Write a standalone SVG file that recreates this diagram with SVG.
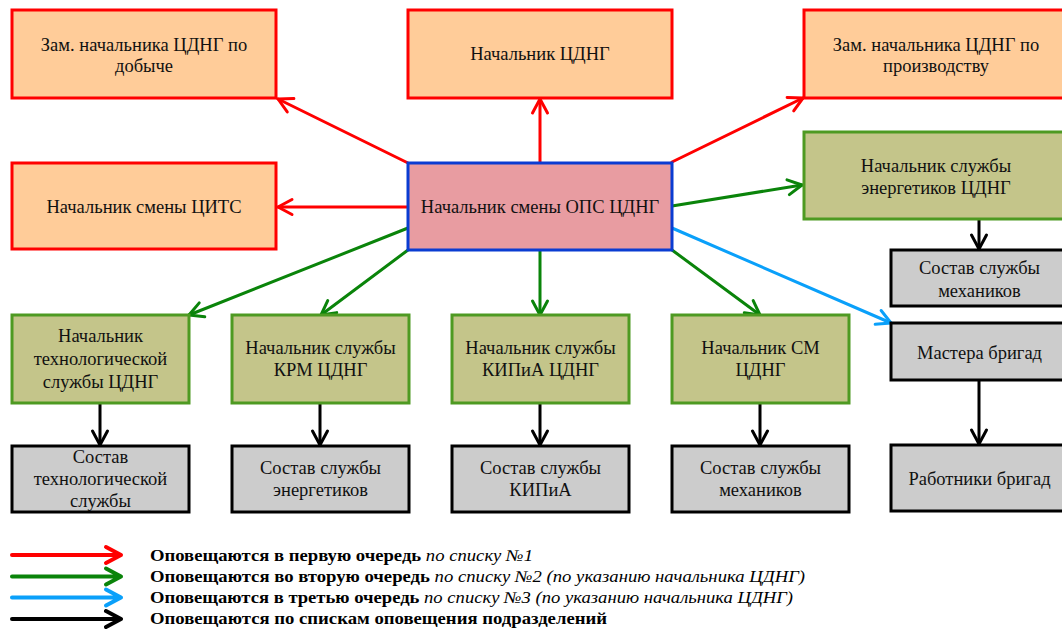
<svg xmlns="http://www.w3.org/2000/svg" width="1062" height="629" viewBox="0 0 1062 629">
<style>
.t{font-family:"Liberation Serif","Times New Roman",serif;font-size:18.5px;fill:#111;text-anchor:middle}
.or{fill:#FFCC99;stroke:#FF0000;stroke-width:3}
.ce{fill:#E89CA1;stroke:#0A3CD2;stroke-width:3}
.gr{fill:#C4C58A;stroke:#4E9A22;stroke-width:3}
.gy{fill:#CCCCCC;stroke:#000;stroke-width:3}
.a{fill:none;stroke-width:3;stroke-linecap:round;stroke-linejoin:round}
.r{stroke:#FF0000}.g{stroke:#0A840A}.b{stroke:#0AA0FA}.k{stroke:#000}
.lg{font-family:"Liberation Serif","Times New Roman",serif;font-size:16.5px;fill:#000}
.la{fill:none;stroke-width:4;stroke-linecap:round;stroke-linejoin:round}
</style>
<defs>
<marker id="mr" markerUnits="userSpaceOnUse" viewBox="-16 -10 18 20" refX="0" refY="0" markerWidth="18" markerHeight="20" orient="auto" overflow="visible"><path d="M-14,-7.5 L0,0 L-14,7.5" fill="none" stroke="#FF0000" stroke-width="3" stroke-linecap="round" stroke-linejoin="round"/></marker>
<marker id="mg" markerUnits="userSpaceOnUse" viewBox="-16 -10 18 20" refX="0" refY="0" markerWidth="18" markerHeight="20" orient="auto" overflow="visible"><path d="M-14,-7.5 L0,0 L-14,7.5" fill="none" stroke="#0A840A" stroke-width="3" stroke-linecap="round" stroke-linejoin="round"/></marker>
<marker id="mb" markerUnits="userSpaceOnUse" viewBox="-16 -10 18 20" refX="0" refY="0" markerWidth="18" markerHeight="20" orient="auto" overflow="visible"><path d="M-14,-7.5 L0,0 L-14,7.5" fill="none" stroke="#0AA0FA" stroke-width="3" stroke-linecap="round" stroke-linejoin="round"/></marker>
<marker id="mk" markerUnits="userSpaceOnUse" viewBox="-16 -10 18 20" refX="0" refY="0" markerWidth="18" markerHeight="20" orient="auto" overflow="visible"><path d="M-14,-7.5 L0,0 L-14,7.5" fill="none" stroke="#000" stroke-width="3" stroke-linecap="round" stroke-linejoin="round"/></marker>
</defs>
<rect width="1062" height="629" fill="#fff"/>

<g id="connectors">
<path class="a r" d="M408,163 L278,99" marker-end="url(#mr)"/>
<path class="a r" d="M540,163 L540,99" marker-end="url(#mr)"/>
<path class="a r" d="M408,207 L278,207" marker-end="url(#mr)"/>
<path class="a r" d="M672,162 L803,98" marker-end="url(#mr)"/>
<path class="a g" d="M672,206 L802,185" marker-end="url(#mg)"/>
<path class="a g" d="M408,228 L189,315" marker-end="url(#mg)"/>
<path class="a g" d="M408,250 L321,315" marker-end="url(#mg)"/>
<path class="a g" d="M540,250 L540,315" marker-end="url(#mg)"/>
<path class="a g" d="M672,250 L760,315" marker-end="url(#mg)"/>
<path class="a b" d="M672,228 L891,323" marker-end="url(#mb)"/>
<path class="a k" d="M100,403 L100,445" marker-end="url(#mk)"/>
<path class="a k" d="M320,403 L320,445" marker-end="url(#mk)"/>
<path class="a k" d="M540,403 L540,445" marker-end="url(#mk)"/>
<path class="a k" d="M760,403 L760,445" marker-end="url(#mk)"/>
<path class="a k" d="M979,219 L979,249" marker-end="url(#mk)"/>
<path class="a k" d="M979,380 L979,444" marker-end="url(#mk)"/>
</g>

<g id="n-zam-dob"><rect class="or" x="12" y="10" width="264" height="88"/><text class="t" x="144" y="50.5">Зам. начальника ЦДНГ по</text><text class="t" x="144" y="72">добыче</text></g>
<g id="n-nach"><rect class="or" x="408" y="10" width="264" height="88"/><text class="t" x="540" y="59.5">Начальник ЦДНГ</text></g>
<g id="n-zam-pr"><rect class="or" x="804" y="10" width="264" height="88"/><text class="t" x="936" y="50.5">Зам. начальника ЦДНГ по</text><text class="t" x="936" y="72">производству</text></g>
<g id="n-cits"><rect class="or" x="12" y="163" width="264" height="86"/><text class="t" x="144" y="213">Начальник смены ЦИТС</text></g>
<g id="n-ops"><rect class="ce" x="408" y="163" width="264" height="87"/><text class="t" x="540" y="213">Начальник смены ОПС ЦДНГ</text></g>
<g id="n-energ"><rect class="gr" x="804" y="132" width="264" height="87"/><text class="t" x="936" y="171.5">Начальник службы</text><text class="t" x="936" y="194">энергетиков ЦДНГ</text></g>

<g id="n-tech"><rect class="gr" x="12" y="315" width="177" height="88"/><text class="t" x="100.5" y="342">Начальник</text><text class="t" x="100.5" y="365">технологической</text><text class="t" x="100.5" y="387.5">службы ЦДНГ</text></g>
<g id="n-krm"><rect class="gr" x="232" y="315" width="177" height="88"/><text class="t" x="320.5" y="353.5">Начальник службы</text><text class="t" x="320.5" y="375.5">КРМ ЦДНГ</text></g>
<g id="n-kip"><rect class="gr" x="452" y="315" width="177" height="88"/><text class="t" x="540.5" y="353.5">Начальник службы</text><text class="t" x="540.5" y="375.5">КИПиА ЦДНГ</text></g>
<g id="n-sm"><rect class="gr" x="672" y="315" width="177" height="88"/><text class="t" x="760.5" y="353.5">Начальник СМ</text><text class="t" x="760.5" y="375.5">ЦДНГ</text></g>

<g id="s-tech"><rect class="gy" x="12" y="446" width="177" height="66"/><text class="t" x="100.5" y="463">Состав</text><text class="t" x="100.5" y="485">технологической</text><text class="t" x="100.5" y="507">службы</text></g>
<g id="s-energ"><rect class="gy" x="232" y="446" width="177" height="66"/><text class="t" x="320.5" y="473.5">Состав службы</text><text class="t" x="320.5" y="495.5">энергетиков</text></g>
<g id="s-kip"><rect class="gy" x="452" y="446" width="177" height="66"/><text class="t" x="540.5" y="473.5">Состав службы</text><text class="t" x="540.5" y="495.5">КИПиА</text></g>
<g id="s-mech"><rect class="gy" x="672" y="446" width="177" height="66"/><text class="t" x="760.5" y="473.5">Состав службы</text><text class="t" x="760.5" y="495.5">механиков</text></g>

<g id="s-mech2"><rect class="gy" x="891" y="250" width="177" height="56"/><text class="t" x="979.5" y="274">Состав службы</text><text class="t" x="979.5" y="296.5">механиков</text></g>
<g id="n-master"><rect class="gy" x="891" y="323" width="177" height="57"/><text class="t" x="979.5" y="359">Мастера бригад</text></g>
<g id="n-rab"><rect class="gy" x="891" y="445" width="177" height="66"/><text class="t" x="979.5" y="484.5">Работники бригад</text></g>

<g id="legend">
<path class="la r" d="M12,555 H121 M106,547 L121,555 L106,563"/>
<path class="la g" d="M12,576.5 H121 M106,568.5 L121,576.5 L106,584.5"/>
<path class="la b" d="M12,597.5 H121 M106,589.5 L121,597.5 L106,605.5"/>
<path class="la k" d="M12,619 H121 M106,611 L121,619 L106,627"/>
<text class="lg" x="150" y="561" textLength="383" lengthAdjust="spacingAndGlyphs"><tspan font-weight="bold">Оповещаются в первую очередь</tspan> <tspan font-style="italic">по списку №1</tspan></text>
<text class="lg" x="150" y="582" textLength="655" lengthAdjust="spacingAndGlyphs"><tspan font-weight="bold">Оповещаются во вторую очередь</tspan> <tspan font-style="italic">по списку №2 (по указанию начальника ЦДНГ)</tspan></text>
<text class="lg" x="150" y="603" textLength="643" lengthAdjust="spacingAndGlyphs"><tspan font-weight="bold">Оповещаются в третью очередь</tspan> <tspan font-style="italic">по списку №3 (по указанию начальника ЦДНГ)</tspan></text>
<text class="lg" x="150" y="624" font-weight="bold" textLength="457" lengthAdjust="spacingAndGlyphs">Оповещаются по спискам оповещения подразделений</text>
</g>
</svg>
